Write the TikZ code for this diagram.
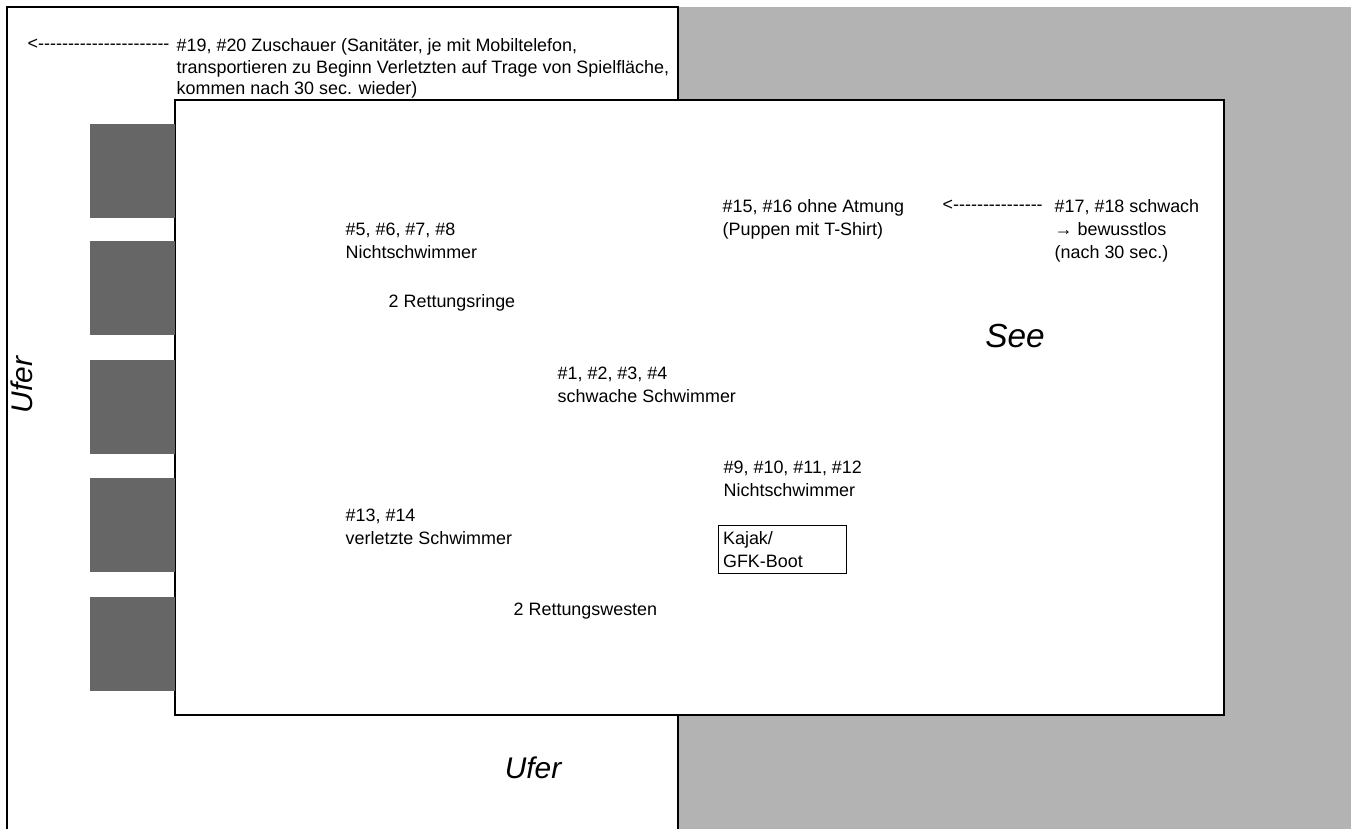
\documentclass[tikz,border=0pt]{standalone}
\usepackage{fontspec}
\setmainfont{Liberation Sans}
\usetikzlibrary{positioning}
\definecolor{seegrau}{HTML}{B3B3B3}
\definecolor{steggrau}{HTML}{666666}
\newcommand{\strichpfeil}[1]{<\foreach \i in {1,...,#1}{-\kern0pt}}

\begin{document}
\begin{tikzpicture}[x=0.02cm, y=-0.02cm, line width=0.8pt, label/.style={inner sep=0pt, align=left, anchor=north west, font=\fontsize{10.2}{13}\selectfont}, ufer/.style={inner sep=0pt, font=\fontsize{17}{20}\selectfont\itshape}, steg/.style={fill=steggrau, draw=none} ]
\useasboundingbox (0,0) rectangle (1351,829);

% --- Flaechen ---
\fill[seegrau] (678,7) rectangle (1351,829);
\draw[fill=white] (7,829) -- (7,7) -- (678,7) -- (678,829);
\draw[fill=white] (175,100) rectangle (1224,715);

% --- Stege am Ufer ---
\foreach \y in {124, 241, 360, 478, 597}
  \fill[steg] (90,\y) rectangle (175,\y+94);

% --- Ufer und See ---
\node[ufer, rotate=90] (uferlinks) at (22,385) {Ufer};
\node[ufer] (uferunten) at (533,768) {Ufer};
\node[ufer, font=\fontsize{19}{22}\selectfont\itshape] (see) at (1015,336) {See};

% --- Zuschauer ---
\node[label] (pfeilzuschauer) at (27,38) {\strichpfeil{22}};
\node[label, font=\fontsize{10.2}{12.2}\selectfont] (zuschauer) at (176,38) {\#19, \#20 Zuschauer (Sanitäter, je mit Mobiltelefon,\\ transportieren zu Beginn Verletzten auf Trage von Spielfläche,\\ kommen nach 30 sec. wieder)};

% --- Schwimmer im See ---
\node[label] (nicht1) at (345,222) {\#5, \#6, \#7, \#8\\ Nichtschwimmer};
\node[label] (ringe) at (388,294) {2 Rettungsringe};
\node[label] (schwach) at (557,366) {\#1, \#2, \#3, \#4\\ schwache Schwimmer};
\node[label] (atmung) at (722,199) {\#15, \#16 ohne Atmung\\ (Puppen mit T-Shirt)};
\node[label] (pfeilbewusst) at (942,199) {\strichpfeil{15}};
\node[label] (bewusst) at (1054,199) {\#17, \#18 schwach\\ → bewusstlos\\ (nach 30 sec.)};
\node[label] (nicht2) at (723,460) {\#9, \#10, \#11, \#12\\ Nichtschwimmer};
\node[label] (verletzt) at (345,508) {\#13, \#14\\ verletzte Schwimmer};
\node[label] (westen) at (513,602) {2 Rettungswesten};

% --- Boot ---
\node[label, draw, line width=0.6pt, inner xsep=2.6pt, inner ysep=0pt, text width=2.56cm-5.2pt, minimum height=48*0.02cm] (boot) at (718,525) {Kajak/\\ GFK-Boot};
\end{tikzpicture}
\end{document}
